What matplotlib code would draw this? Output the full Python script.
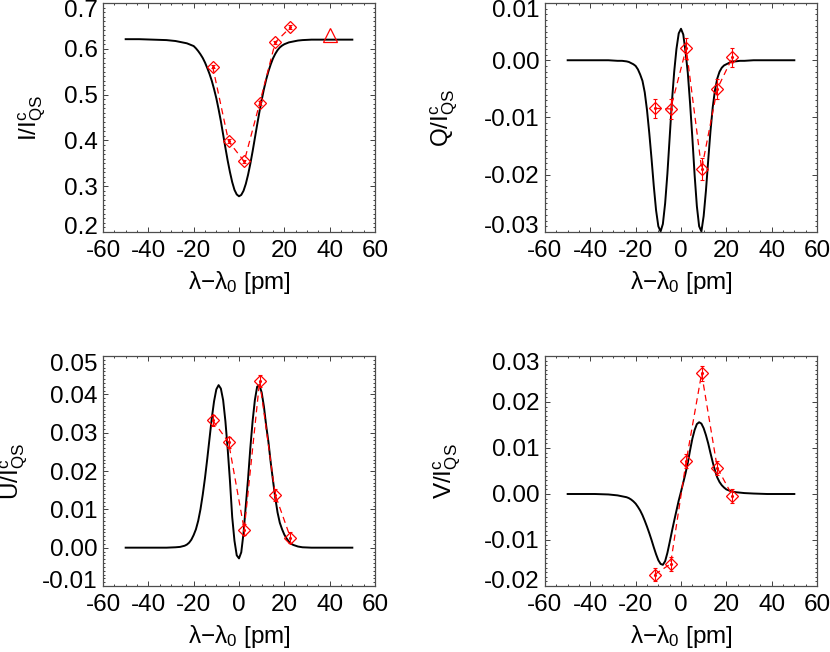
import matplotlib
matplotlib.use("Agg")
import matplotlib.pyplot as plt
from matplotlib.ticker import MultipleLocator, FuncFormatter
from matplotlib.transforms import ScaledTranslation

plt.rcParams["font.family"] = ["Liberation Sans", "DejaVu Sans"]
plt.rcParams["mathtext.fontset"] = "custom"
plt.rcParams["mathtext.rm"] = "Liberation Sans"
plt.rcParams["mathtext.it"] = "Liberation Sans:italic"
plt.rcParams["axes.unicode_minus"] = False

# ============================================================
# DATA
# ============================================================
# wavelength grid of the synthetic profiles [pm]
x_fit = ([-50, -44, -38, -32, -28, -26, -24, -23, -22, -21]
         + list(range(-20, 21))
         + [21, 22, 23, 24, 26, 28, 32, 38, 44, 50])

i_fit = [0.621, 0.621, 0.620, 0.619, 0.617, 0.615, 0.613, 0.612, 0.610, 0.608,
         0.606, 0.601, 0.595, 0.588, 0.580, 0.570, 0.558, 0.545, 0.530, 0.512,
         0.492, 0.468, 0.442, 0.413, 0.384, 0.356, 0.331, 0.309, 0.292, 0.282,
         0.278,
         0.281, 0.290, 0.305, 0.325, 0.349, 0.376, 0.405, 0.434, 0.462, 0.488,
         0.512, 0.533, 0.551, 0.566, 0.579, 0.589, 0.597, 0.603, 0.607, 0.610,
         0.612, 0.614, 0.615, 0.616, 0.618, 0.619, 0.620, 0.620, 0.620, 0.620]

q_fit = [0.0, 0.0, 0.0, 0.0, -0.0001, -0.0001, -0.0002, -0.0003, -0.0005, -0.0007,
         -0.0010, -0.0016, -0.0025, -0.0036, -0.0056, -0.0087, -0.0127, -0.0172, -0.0220, -0.0262,
         -0.0290, -0.0299, -0.0286, -0.0250, -0.0198, -0.0135, -0.0072, -0.0020, 0.0020, 0.0047,
         0.0055,
         0.0045, 0.0015, -0.0022, -0.0075, -0.0135, -0.0200, -0.0255, -0.0290, -0.0299, -0.0272,
         -0.0228, -0.0175, -0.0124, -0.0082, -0.0052, -0.0032, -0.0020, -0.0013, -0.0009, -0.0007,
         -0.0005, -0.0003, -0.0002, -0.0002, -0.0001, -0.0001, 0.0, 0.0, 0.0, 0.0]

u_fit = [0.0, 0.0, 0.0, 0.0, 0.0001, 0.0002, 0.0005, 0.0008, 0.0013, 0.0021,
         0.0033, 0.0048, 0.0070, 0.0100, 0.0138, 0.0182, 0.0232, 0.0285, 0.0338, 0.0382,
         0.0413, 0.0424, 0.0415, 0.0385, 0.0330, 0.0258, 0.0175, 0.0080, 0.0018, -0.0020,
         -0.0028,
         -0.0012, 0.0038, 0.0110, 0.0180, 0.0260, 0.0330, 0.0385, 0.0420, 0.0424, 0.0405,
         0.0368, 0.0318, 0.0275, 0.0222, 0.0175, 0.0130, 0.0092, 0.0065, 0.0048, 0.0034,
         0.0024, 0.0016, 0.0010, 0.0007, 0.0003, 0.0001, 0.0, 0.0, 0.0, 0.0]

v_fit = [0.0, 0.0, 0.0, -0.0001, -0.0003, -0.0005, -0.0007, -0.0009, -0.0012, -0.0016,
         -0.0021, -0.0028, -0.0036, -0.0046, -0.0058, -0.0071, -0.0085, -0.0100, -0.0116, -0.0131,
         -0.0144, -0.0152, -0.0154, -0.0146, -0.0128, -0.0105, -0.0081, -0.0058, -0.0036, -0.0014,
         0.0005,
         0.0025, 0.0045, 0.0068, 0.0095, 0.0120, 0.0139, 0.0152, 0.0156, 0.0153, 0.0143,
         0.0128, 0.0110, 0.0089, 0.0069, 0.0051, 0.0036, 0.0026, 0.0019, 0.0014, 0.0010,
         0.0008, 0.0006, 0.0005, 0.0004, 0.0003, 0.0002, 0.0001, 0.0, 0.0, 0.0]

# observed points
x_obs = [-11.6, -4.6, 2.3, 9.1, 16.0, 22.7]
i_obs = [0.561, 0.398, 0.354, 0.481, 0.614, 0.647]
q_obs = [-0.0084, -0.0085, 0.0021, -0.0190, -0.0050, 0.0005]
u_obs = [0.0332, 0.0275, 0.0047, 0.0435, 0.0138, 0.0026]
v_obs = [-0.0175, -0.0152, 0.0072, 0.0262, 0.0057, -0.0004]
i_err = [0.004, 0.004, 0.004, 0.004, 0.004, 0.004]
q_err = [0.0017, 0.0017, 0.0018, 0.0019, 0.0017, 0.0017]
u_err = [0.0015, 0.0015, 0.0015, 0.0015, 0.0015, 0.0015]
v_err = [0.0015, 0.0015, 0.0015, 0.0016, 0.0015, 0.0015]

# extra point (triangle) in the I panel
x_tri = [40.0]
i_tri = [0.631]

x_ticks = [-60, -40, -20, 0, 20, 40, 60]


# ============================================================
# PLOTTING
# ============================================================
W, H = 830, 652
FS = 17.5


def box(left, top, right, bottom):
    return [left / W, 1 - bottom / H, (right - left) / W, (bottom - top) / H]


def fmt_factory(decimals):
    def f(v, pos):
        v = round(v, decimals) + 0.0
        return f"{v:.{decimals}f}"
    return FuncFormatter(f)


def panel(fig, rect, fit, obs, err, ylim, ystep, decimals, ylabel, ylab_x):
    ax = fig.add_axes(rect)
    ax.plot(x_fit, fit, color="black", lw=1.4, zorder=2)
    ax.plot(x_obs, obs, color="red", lw=0.9, ls=(0, (5, 3.5)), zorder=3)
    ax.errorbar(x_obs, obs, yerr=err, fmt="none", ecolor="red",
                elinewidth=0.8, capsize=1.5, capthick=0.8, zorder=3)
    ax.plot(x_obs, obs, ".", color="red", ms=2.5, zorder=4)
    ax.plot(x_obs, obs, "D", ms=6.5, mfc="none", mec="red", mew=0.9, zorder=4)

    ax.set_xlim(-60, 60)
    ax.set_ylim(*ylim)
    ax.set_xticks(x_ticks)
    ax.set_xticklabels([str(t) for t in x_ticks])
    ax.xaxis.set_minor_locator(MultipleLocator(5))
    ax.yaxis.set_major_locator(MultipleLocator(ystep))
    ax.yaxis.set_minor_locator(MultipleLocator(ystep / 10))
    ax.yaxis.set_major_formatter(fmt_factory(decimals))

    ax.tick_params(which="both", direction="in", top=True, right=True,
                   width=0.7, color="0.25")
    ax.tick_params(which="major", length=3.3)
    ax.tick_params(which="minor", length=1.7)
    ax.tick_params(axis="x", which="major", labelsize=FS, pad=6)
    ax.tick_params(axis="y", which="major", labelsize=FS, pad=4)
    for s in ax.spines.values():
        s.set_color("0.3")
        s.set_linewidth(0.9)

    ax.set_xlabel("λ−λ$_0$ [pm]", fontsize=FS)
    ax.xaxis.set_label_coords(0.5, -0.16)
    ax.set_ylabel(ylabel, fontsize=FS)
    ax.yaxis.set_label_coords(ylab_x, 0.5)
    return ax


def pull_edge_labels(fig, ax, down_px=6, up_px=7):
    # the lowest / highest y tick labels are nudged inside the axis height
    lo, hi = ax.get_ylim()
    for t in ax.yaxis.get_major_ticks():
        loc = t.get_loc()
        if abs(loc - lo) < 1e-9:
            dy = up_px
        elif abs(loc - hi) < 1e-9:
            dy = -down_px
        else:
            continue
        shift = ScaledTranslation(0, dy / fig.dpi, fig.dpi_scale_trans)
        t.label1.set_transform(t.label1.get_transform() + shift)


def main():
    fig = plt.figure(figsize=(W / 100, H / 100), dpi=100)

    ax1 = panel(fig, box(103, 3, 375, 232), i_fit, i_obs, i_err, (0.2, 0.7), 0.1, 1,
                r"I/I$^{\rm c}_{\rm QS}$", -0.202)
    ax1.plot(x_tri, i_tri, "^", ms=10.5, mfc="none", mec="red", mew=0.9, zorder=4)

    ax2 = panel(fig, box(545, 3, 817, 232), q_fit, q_obs, q_err, (-0.03, 0.01), 0.01, 2,
                r"Q/I$^{\rm c}_{\rm QS}$", -0.312)
    ax3 = panel(fig, box(103, 356, 375, 586), u_fit, u_obs, u_err, (-0.01, 0.05), 0.01, 2,
                r"U/I$^{\rm c}_{\rm QS}$", -0.27)
    ax4 = panel(fig, box(545, 356, 817, 586), v_fit, v_obs, v_err, (-0.02, 0.03), 0.01, 2,
                r"V/I$^{\rm c}_{\rm QS}$", -0.30)

    fig.canvas.draw()
    for ax in (ax1, ax2, ax3, ax4):
        pull_edge_labels(fig, ax)

    fig.savefig("out.png", dpi=100)
    plt.close(fig)


if __name__ == "__main__":
    main()
